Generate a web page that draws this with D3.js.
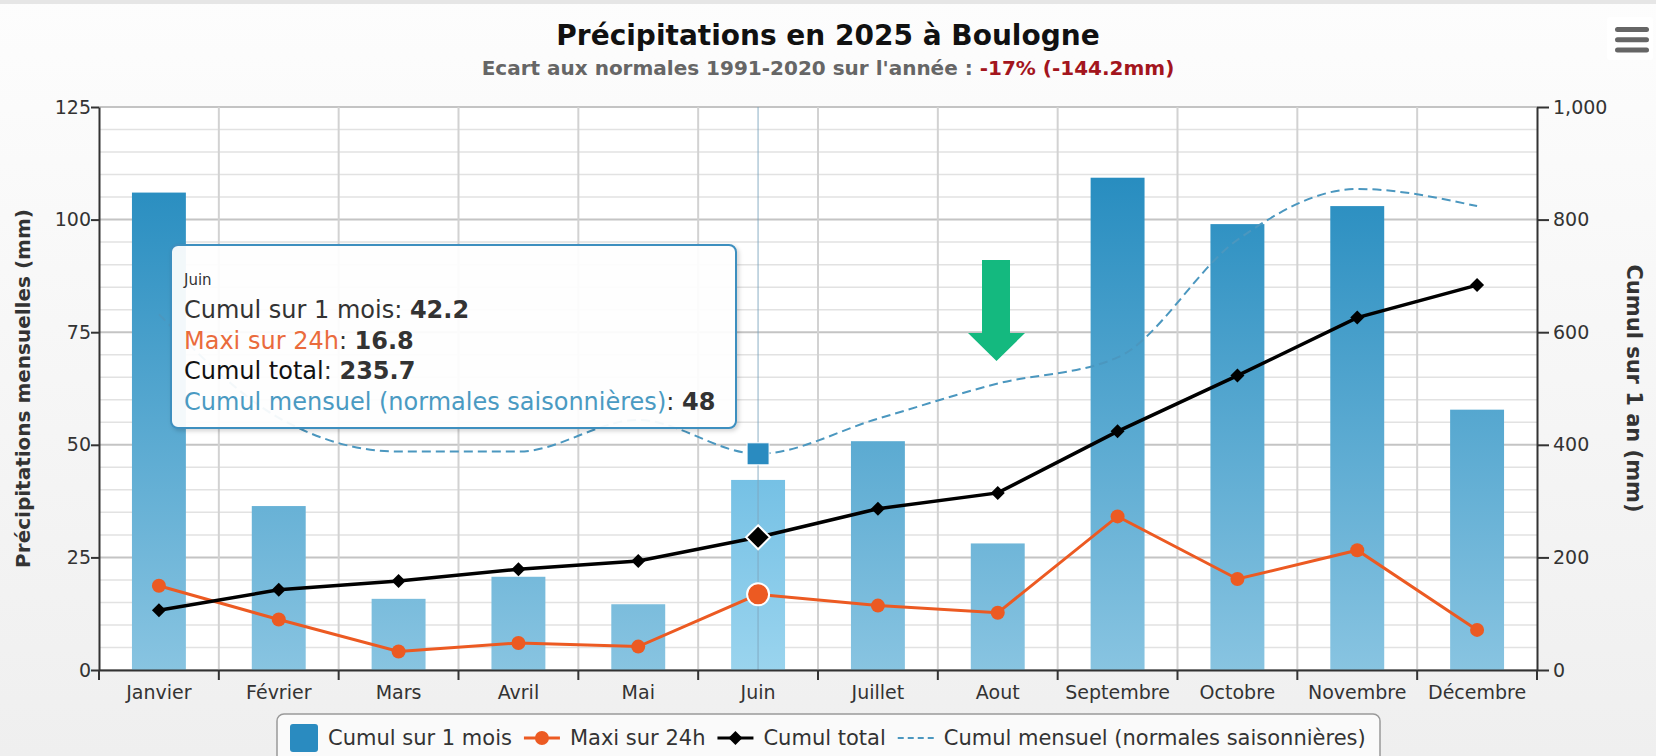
<!DOCTYPE html>
<html>
<head>
<meta charset="utf-8">
<script src="https://cdn.jsdelivr.net/npm/d3@7"></script>
<style>
  body { margin: 0; background: #f4f4f4; }
  svg { display: block; font-family: "DejaVu Sans", Verdana, sans-serif; }
</style>
</head>
<body>
<div id="chart"></div>
<script>
// data
var months = ['Janvier','Février','Mars','Avril','Mai','Juin','Juillet','Aout','Septembre','Octobre','Novembre','Décembre'];
var cumulMois = [106.0, 36.4, 15.8, 20.7, 14.6, 42.2, 50.8, 28.1, 109.3, 99.0, 103.0, 57.8];
var maxi24h = [18.7, 11.2, 4.1, 6.0, 5.2, 16.8, 14.3, 12.7, 34.1, 20.2, 26.6, 8.9];
var cumulTotal = [106.0, 142.4, 158.2, 178.9, 193.5, 235.7, 286.5, 314.6, 423.9, 522.9, 625.9, 683.7];
var normales = [79, 56, 48.5, 48.5, 55.5, 48, 55.8, 63.6, 69.4, 95.5, 106.8, 103];
var leftTicks = [0, 25, 50, 75, 100, 125];
var rightTicks = [0, 200, 400, 600, 800, 1000];
var hoverIndex = 5;

var colBar = "#2a8bc0", colMaxi = "#ec5a22", colTotal = "#000000", colNorm = "#4b97bf";

var W = 1656, H = 756;
var plot = {left: 99, right: 1537, top: 107, bottom: 670};

var svg = d3.select("#chart").append("svg")
  .attr("width", W).attr("height", H);

var defs = svg.append("defs");
var bg = defs.append("linearGradient").attr("id", "bg")
  .attr("x1", 0).attr("y1", 0).attr("x2", 0).attr("y2", 1);
bg.append("stop").attr("offset", "0%").attr("stop-color", "#fdfdfd");
bg.append("stop").attr("offset", "100%").attr("stop-color", "#efefef");

function barGrad(id, c1, c2) {
  var g = defs.append("linearGradient").attr("id", id)
    .attr("gradientUnits", "userSpaceOnUse")
    .attr("x1", 0).attr("y1", plot.top).attr("x2", 0).attr("y2", plot.bottom);
  g.append("stop").attr("offset", "0%").attr("stop-color", c1);
  g.append("stop").attr("offset", "100%").attr("stop-color", c2);
}
barGrad("barG", "#1a85bb", "#88c4e1");
barGrad("barH", "#2e9bd3", "#9ad4ee");

var shadow = defs.append("filter").attr("id", "shadow")
  .attr("x", "-10%").attr("y", "-10%").attr("width", "130%").attr("height", "130%");
shadow.append("feDropShadow").attr("dx", 2).attr("dy", 2).attr("stdDeviation", 2)
  .attr("flood-color", "#000").attr("flood-opacity", 0.18);

svg.append("rect").attr("width", W).attr("height", H).attr("fill", "url(#bg)");
svg.append("rect").attr("width", W).attr("height", 4).attr("fill", "#e6e6e6");

// scales
var x = d3.scaleBand().domain(months).range([plot.left, plot.right]);
var yL = d3.scaleLinear().domain([0, 125]).range([plot.bottom, plot.top]);
var yR = d3.scaleLinear().domain([0, 1000]).range([plot.bottom, plot.top]);
var cx = function(i) { return x(months[i]) + x.bandwidth() / 2; };

svg.append("rect")
  .attr("x", plot.left).attr("y", plot.top)
  .attr("width", plot.right - plot.left).attr("height", plot.bottom - plot.top)
  .attr("fill", "#ffffff");

// grid
var grid = svg.append("g");
grid.selectAll("line.minor")
  .data(d3.range(0, 126, 5))
  .enter().append("line")
    .attr("x1", plot.left).attr("x2", plot.right)
    .attr("y1", function(d) { return yL(d); }).attr("y2", function(d) { return yL(d); })
    .style("stroke", function(d) { return d % 25 == 0 ? "#c4c4c4" : "#e2e2e2"; })
    .style("stroke-width", function(d) { return d % 25 == 0 ? 2 : 1.5; });
grid.selectAll("line.vert")
  .data(months.slice(1))
  .enter().append("line")
    .attr("x1", function(d) { return x(d); }).attr("x2", function(d) { return x(d); })
    .attr("y1", plot.top).attr("y2", plot.bottom)
    .style("stroke", "#d2d2d2").style("stroke-width", 2);

// bars
var bw = x.bandwidth() * 0.45;
svg.append("g").selectAll("rect")
  .data(cumulMois)
  .enter().append("rect")
    .attr("x", function(d, i) { return cx(i) - bw / 2; })
    .attr("y", function(d) { return yL(d); })
    .attr("width", bw)
    .attr("height", function(d) { return yL(0) - yL(d); })
    .attr("fill", function(d, i) { return i == hoverIndex ? "url(#barH)" : "url(#barG)"; });

// crosshair
svg.append("line")
  .attr("x1", cx(hoverIndex)).attr("x2", cx(hoverIndex))
  .attr("y1", plot.top).attr("y2", plot.bottom)
  .style("stroke", "#7fa6c0").style("stroke-opacity", 0.6).style("stroke-width", 1.5);

// normales (spline, dashed)
var normLine = d3.line()
  .x(function(d, i) { return cx(i); })
  .y(function(d) { return yL(d); })
  .curve(d3.curveMonotoneX);
svg.append("path").datum(normales)
  .attr("d", normLine)
  .style("fill", "none").style("stroke", colNorm)
  .style("stroke-width", 2).style("stroke-dasharray", "9,5");

// maxi 24h
var maxiLine = d3.line()
  .x(function(d, i) { return cx(i); })
  .y(function(d) { return yL(d); });
svg.append("path").datum(maxi24h)
  .attr("d", maxiLine)
  .style("fill", "none").style("stroke", colMaxi).style("stroke-width", 3);
svg.append("g").selectAll("circle")
  .data(maxi24h)
  .enter().append("circle")
    .attr("cx", function(d, i) { return cx(i); })
    .attr("cy", function(d) { return yL(d); })
    .attr("r", function(d, i) { return i == hoverIndex ? 11 : 7; })
    .style("fill", colMaxi)
    .style("stroke", function(d, i) { return i == hoverIndex ? "#fff" : "none"; })
    .style("stroke-width", 2);

// cumul total (right axis)
var totalLine = d3.line()
  .x(function(d, i) { return cx(i); })
  .y(function(d) { return yR(d); });
svg.append("path").datum(cumulTotal)
  .attr("d", totalLine)
  .style("fill", "none").style("stroke", colTotal).style("stroke-width", 3.5);
svg.append("g").selectAll("path.diam")
  .data(cumulTotal)
  .enter().append("path")
    .attr("transform", function(d, i) { return "translate(" + cx(i) + "," + yR(d) + ")"; })
    .attr("d", function(d, i) {
      var s = i == hoverIndex ? 12 : 7;
      return "M0," + (-s) + "L" + s + ",0L0," + s + "L" + (-s) + ",0Z";
    })
    .style("fill", colTotal)
    .style("stroke", function(d, i) { return i == hoverIndex ? "#fff" : "none"; })
    .style("stroke-width", 2);

// hover marker on normales
svg.append("rect")
  .attr("x", cx(hoverIndex) - 11).attr("y", yL(normales[hoverIndex]) - 11)
  .attr("width", 22).attr("height", 22)
  .style("fill", colBar).style("stroke", "#fff").style("stroke-width", 1);

// axes
var axisL = d3.axisLeft(yL).tickValues(leftTicks).tickSize(8).tickPadding(0).tickSizeOuter(0);
var axisR = d3.axisRight(yR).tickValues(rightTicks).tickSize(12).tickPadding(4).tickSizeOuter(0)
  .tickFormat(d3.format(","));
var axisB = d3.axisBottom(x).tickSize(0).tickPadding(16);

function styleAxis(g) {
  g.select(".domain").style("stroke", "#333").style("stroke-width", 2);
  g.selectAll(".tick line").style("stroke", "#333").style("stroke-width", 2);
  g.selectAll("text").style("font-family", "DejaVu Sans").style("font-size", "19px").style("fill", "#333");
}
svg.append("g").attr("transform", "translate(" + plot.left + ",0)").call(axisL).call(styleAxis);
svg.append("g").attr("transform", "translate(" + plot.right + ",0)").call(axisR).call(styleAxis);
var gB = svg.append("g").attr("transform", "translate(0," + plot.bottom + ")").call(axisB).call(styleAxis);
gB.selectAll(".tick text").attr("dy", "0.71em");
gB.selectAll("line.cat")
  .data(months.concat(["end"]))
  .enter().append("line")
    .attr("x1", function(d, i) { return plot.left + i * x.bandwidth(); })
    .attr("x2", function(d, i) { return plot.left + i * x.bandwidth(); })
    .attr("y1", 0).attr("y2", 10)
    .style("stroke", "#333").style("stroke-width", 2);

// axis titles
svg.append("text")
  .attr("transform", "translate(23," + (plot.top + plot.bottom) / 2 + ") rotate(-90)")
  .attr("text-anchor", "middle").attr("dy", "0.35em")
  .style("font-size", "20px").style("font-weight", "bold").style("fill", "#333")
  .text("Précipitations mensuelles (mm)");
svg.append("text")
  .attr("transform", "translate(1634," + (plot.top + plot.bottom) / 2 + ") rotate(90)")
  .attr("text-anchor", "middle").attr("dy", "0.35em")
  .style("font-size", "21px").style("font-weight", "bold").style("fill", "#333")
  .text("Cumul sur 1 an (mm)");

// title + subtitle
svg.append("text")
  .attr("x", W / 2).attr("y", 45).attr("text-anchor", "middle")
  .style("font-size", "28px").style("font-weight", "bold").style("fill", "#111")
  .text("Précipitations en 2025 à Boulogne");
var sub = svg.append("text")
  .attr("x", W / 2).attr("y", 75).attr("text-anchor", "middle")
  .style("font-size", "20px").style("font-weight", "bold").style("fill", "#666");
sub.append("tspan").text("Ecart aux normales 1991-2020 sur l'année : ");
sub.append("tspan").style("fill", "#a3151d").text("-17% (-144.2mm)");

// tooltip for Juin
var tip = svg.append("g").attr("transform", "translate(171,245)");
tip.append("rect")
  .attr("width", 565).attr("height", 183).attr("rx", 7)
  .style("fill", "rgba(255,255,255,0.93)").style("stroke", "#3d8fbf").style("stroke-width", 2)
  .attr("filter", "url(#shadow)");
tip.append("text").attr("x", 13).attr("y", 40)
  .style("font-size", "15px").style("fill", "#333").text(months[hoverIndex]);
var tipRows = [
  {label: "Cumul sur 1 mois", color: "#333", value: cumulMois[hoverIndex]},
  {label: "Maxi sur 24h", color: "#ea6b3c", value: maxi24h[hoverIndex]},
  {label: "Cumul total", color: "#111", value: cumulTotal[hoverIndex]},
  {label: "Cumul mensuel (normales saisonnières)", color: "#4a9ac2", value: normales[hoverIndex]}
];
tip.selectAll("text.row")
  .data(tipRows)
  .enter().append("text")
    .attr("x", 13)
    .attr("y", function(d, i) { return 73 + i * 30.6; })
    .style("font-size", "24px")
    .each(function(d) {
      var t = d3.select(this);
      t.append("tspan").style("fill", d.color).text(d.label);
      t.append("tspan").style("fill", "#333").text(": ");
      t.append("tspan").style("fill", "#333").style("font-weight", "bold").text(d.value);
    });

// legend
var leg = svg.append("g");
leg.append("rect")
  .attr("x", 277).attr("y", 714).attr("width", 1103).attr("height", 52).attr("rx", 7)
  .style("fill", "#fafafa").style("stroke", "#999").style("stroke-width", 1.5);
var legItems = [
  {name: "Cumul sur 1 mois", type: "bar"},
  {name: "Maxi sur 24h", type: "maxi"},
  {name: "Cumul total", type: "total"},
  {name: "Cumul mensuel (normales saisonnières)", type: "norm"}
];
var lx = 290, ly = 738;
legItems.forEach(function(d) {
  var sw = d.type == "bar" ? 28 : 36;
  if (d.type == "bar") {
    leg.append("rect").attr("x", lx).attr("y", ly - 14).attr("width", 28).attr("height", 28).attr("rx", 3)
      .style("fill", colBar);
  } else if (d.type == "maxi") {
    leg.append("line").attr("x1", lx).attr("x2", lx + sw).attr("y1", ly).attr("y2", ly)
      .style("stroke", colMaxi).style("stroke-width", 3);
    leg.append("circle").attr("cx", lx + sw / 2).attr("cy", ly).attr("r", 7).style("fill", colMaxi);
  } else if (d.type == "total") {
    leg.append("line").attr("x1", lx).attr("x2", lx + sw).attr("y1", ly).attr("y2", ly)
      .style("stroke", colTotal).style("stroke-width", 3);
    leg.append("path").attr("transform", "translate(" + (lx + sw / 2) + "," + ly + ")")
      .attr("d", "M0,-7L7,0L0,7L-7,0Z").style("fill", colTotal);
  } else {
    leg.append("line").attr("x1", lx).attr("x2", lx + sw).attr("y1", ly).attr("y2", ly)
      .style("stroke", colNorm).style("stroke-width", 2).style("stroke-dasharray", "6,4");
  }
  var t = leg.append("text").attr("x", lx + sw + 10).attr("y", ly).attr("dy", "0.35em")
    .style("font-size", "21px").style("fill", "#333").text(d.name);
  lx = lx + sw + 10 + t.node().getComputedTextLength() + 12;
});

// menu button
var menu = svg.append("g");
menu.append("rect").attr("x", 1607).attr("y", 17).attr("width", 46).attr("height", 43).attr("rx", 3)
  .style("fill", "#ffffff");
menu.selectAll("rect.bar")
  .data([0, 1, 2])
  .enter().append("rect")
    .attr("x", 1615).attr("y", function(d) { return 27 + d * 10.3; })
    .attr("width", 34).attr("height", 5).attr("rx", 2.5)
    .style("fill", "#666");

// green annotation arrow
svg.append("path")
  .attr("d", "M982,260L1010,260L1010,333L1025,333L996.5,361L968,333L982,333Z")
  .style("fill", "#14b97f");
</script>
</body>
</html>
